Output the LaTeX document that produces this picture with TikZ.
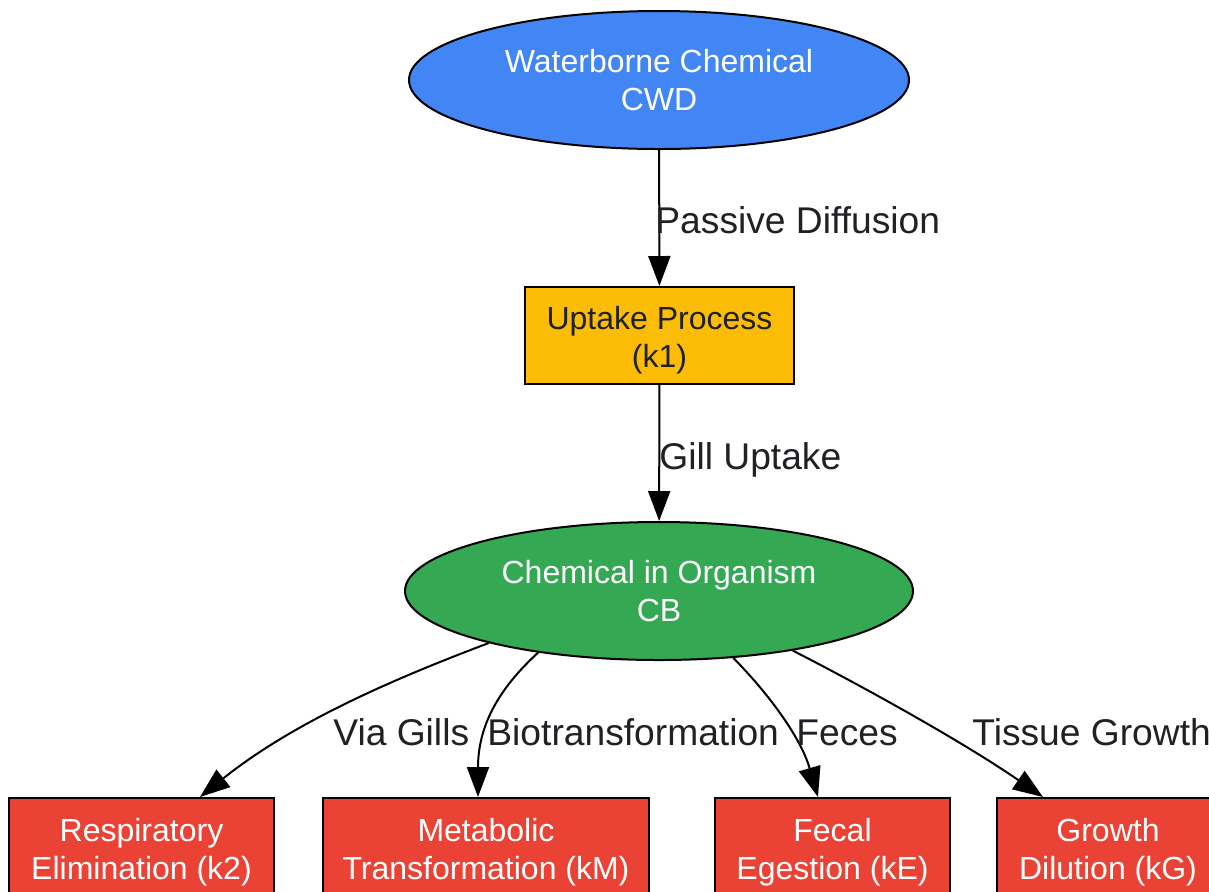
\documentclass[tikz,border=0pt]{standalone}
\usepackage{fontspec}
\setmainfont{Liberation Sans}
\usetikzlibrary{shapes.geometric,arrows.meta}
\definecolor{gblue}{HTML}{4285F4}
\definecolor{gyellow}{HTML}{FBBC05}
\definecolor{ggreen}{HTML}{34A853}
\definecolor{gred}{HTML}{EA4335}
\definecolor{dtext}{HTML}{202124}
\tikzset{
  ellnode/.style={ellipse, draw=black, line width=1pt, inner sep=0pt, text=white, align=center,
    font=\fontsize{16}{19}\selectfont},
  boxnode/.style={rectangle, draw=black, line width=1pt, inner sep=0pt, align=center,
    font=\fontsize{16}{19}\selectfont, minimum height=48.5pt},
  redbox/.style={boxnode, fill=gred, text=white},
  conn/.style={draw=black, line width=1pt, -{Triangle[length=15pt,width=11pt]}},
  elabel/.style={anchor=base west, inner sep=0pt, text=dtext, font=\fontsize{18.6}{22}\selectfont}
}
\newcommand{\lowstrut}[1]{\rule{0pt}{#1}}
\begin{document}
\begin{tikzpicture}[x=0.5pt,y=-0.5pt]
\useasboundingbox (0,0) rectangle (1209,891);
\clip (0,0) rectangle (1209,891);
\fill[white] (0,0) rectangle (1209,891);
\node[ellnode, fill=gblue, minimum width=250pt, minimum height=69pt] (wc) at (659,80) {Waterborne Chemical\\CWD};
\node[boxnode, fill=gyellow, text=dtext, minimum width=134.5pt] (up) at (659.5,335.5) {\lowstrut{16.5pt}Uptake Process\\(k1)};
\node[ellnode, fill=ggreen, minimum width=254pt, minimum height=69pt] (cb) at (659,591) {Chemical in Organism\\CB};
\node[redbox, minimum width=132.5pt] (b1) at (141.5,846.5) {\lowstrut{17.5pt}Respiratory\\Elimination (k2)};
\node[redbox, minimum width=163pt] (b2) at (486,846.5) {\lowstrut{17.5pt}Metabolic\\Transformation (kM)};
\node[redbox, minimum width=117.5pt] (b3) at (832.5,846.5) {\lowstrut{17.5pt}Fecal\\Egestion (kE)};
\node[redbox, minimum width=111pt] (b4) at (1108,846.5) {\lowstrut{17.5pt}Growth\\Dilution (kG)};

\draw[conn] (wc) -- (up);
\draw[conn] (up) -- (cb);
\draw[conn] (cb.197) .. controls (385,682) and (290,725) .. ([xshift=29.25pt]b1.north);
\draw[conn] (cb.207.5) .. controls (505,683) and (478,720) .. ([xshift=-4pt]b2.north);
\draw[conn] (cb.-42) .. controls (765,690) and (800,735) .. ([xshift=-7.25pt]b3.north);
\draw[conn] (cb.-24.6) .. controls (860,685) and (960,740) .. ([xshift=-32.5pt]b4.north);

\node[elabel] (l1) at (655,233) {Passive Diffusion};
\node[elabel] (l2) at (659,469) {Gill Uptake};
\node[elabel] (l3) at (333,745) {Via Gills};
\node[elabel] (l4) at (487,745) {Biotransformation};
\node[elabel] (l5) at (796,745) {Feces};
\node[elabel] (l6) at (972,745) {Tissue Growth};
\end{tikzpicture}
\end{document}
